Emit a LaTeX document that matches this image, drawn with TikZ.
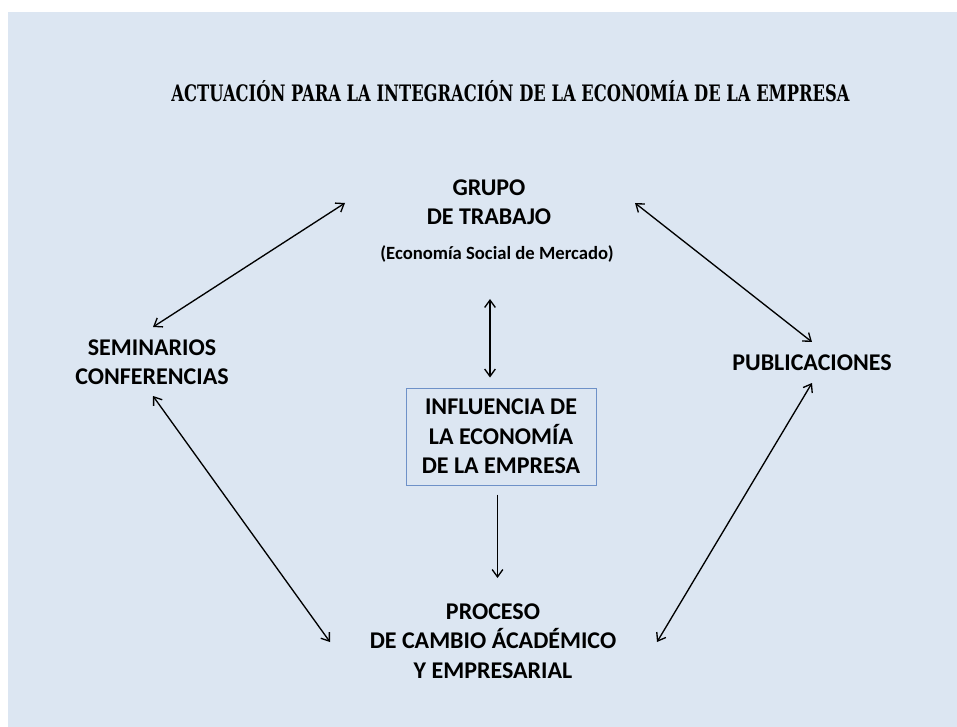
\documentclass[tikz,border=0pt]{standalone}
\usepackage{fontspec}
\setmainfont{Carlito}
\newfontfamily\titlefont[FakeStretch=0.72]{DejaVu Serif}
\usetikzlibrary{arrows.meta,calc,positioning}
\definecolor{bgblue}{RGB}{220,230,242}
\definecolor{boxblue}{RGB}{110,145,200}
\tikzset{
  lbl/.style={align=center,inner sep=0pt,
    font=\fontsize{18}{22}\selectfont\bfseries},
  sublbl/.style={align=center,inner sep=0pt,
    font=\fontsize{14}{17}\selectfont\bfseries},
  titlelbl/.style={inner sep=0pt,
    font=\titlefont\bfseries\fontsize{17}{20}\selectfont},
  infobox/.style={lbl,draw=boxblue,line width=0.75pt,fill=bgblue,
    minimum width=142.5pt,minimum height=72.75pt},
  dbl/.style={{Straight Barb[length=5.5pt,width=8pt]}-{Straight Barb[length=5.5pt,width=8pt]},line width=1pt},
  sgl/.style={-{Straight Barb[length=5.5pt,width=8pt]},line width=1pt}
}
\begin{document}
\begin{tikzpicture}[x=0.75pt,y=-0.75pt]
  \useasboundingbox (0,0) rectangle (957,727);
  \fill[bgblue] (8,12) rectangle (957,727);
  \node[titlelbl] (title) at (510.5,91)
    {ACTUACIÓN PARA LA INTEGRACIÓN DE LA ECONOMÍA DE LA EMPRESA};
  \node[lbl] (grupo) at (489,202.5) {GRUPO\\DE TRABAJO};
  \node[sublbl] (merc) at (497,254) {(Economía Social de Mercado)};
  \node[lbl] (sem) at (152,362) {SEMINARIOS\\CONFERENCIAS};
  \node[lbl] (pub) at (812,363) {PUBLICACIONES};
  \node[infobox] (infl) at (501,436.5)
    {INFLUENCIA DE\\LA ECONOMÍA\\DE LA EMPRESA};
  \node[lbl] (proc) at (493,641)
    {PROCESO\\DE CAMBIO ÁCADÉMICO\\Y EMPRESARIAL};
  % connectors
  \draw[dbl] ($(sem)+(1,-35)$) -- ($(grupo)+(-144,0.5)$);
  \draw[dbl] ($(grupo)+(146,0.5)$) -- ($(pub)+(0,-21)$);
  \draw[dbl] ($(merc)+(-7,45)$) -- ($(infl.north)+(-11,-10)$);
  \draw[sgl] ($(infl.south)+(-3.5,9)$) -- ($(proc)+(4.5,-63)$);
  \draw[dbl] ($(sem)+(1,34)$) -- ($(proc)+(-163,1)$);
  \draw[dbl] ($(pub)+(0,20)$) -- ($(proc)+(164,1)$);
\end{tikzpicture}
\end{document}
